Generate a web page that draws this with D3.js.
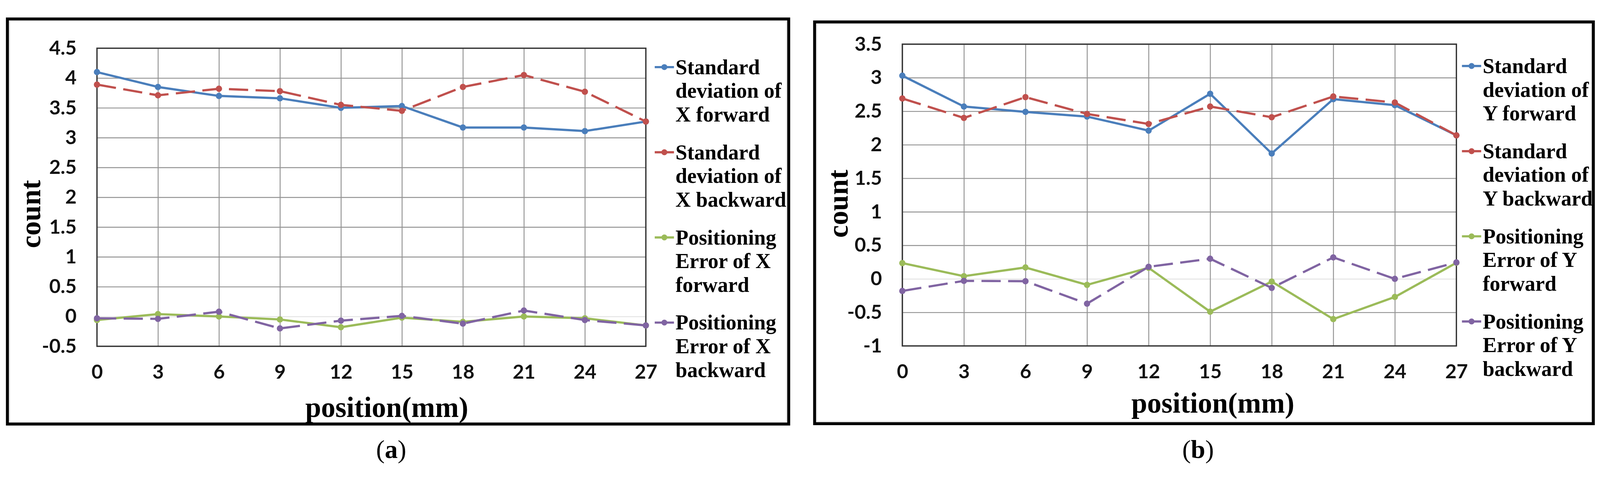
<!DOCTYPE html>
<html>
<head>
<meta charset="utf-8">
<script src="https://cdn.jsdelivr.net/npm/d3@7"></script>
<style>
  html, body { margin: 0; padding: 0; background: #fff; overflow: hidden; }
  #chart { width: 100vw; height: 100vh; }
  svg { display: block; width: 100%; height: 100%; }
</style>
</head>
<body>
<div id="chart"></div>
<script>
// positions along the axis (mm)
var positions = [0, 3, 6, 9, 12, 15, 18, 21, 24, 27];

// panel (a) - X axis
var stdXForward  = [4.10, 3.85, 3.70, 3.66, 3.50, 3.53, 3.17, 3.17, 3.11, 3.27];
var stdXBackward = [3.89, 3.71, 3.82, 3.78, 3.55, 3.45, 3.85, 4.05, 3.77, 3.27];
var errXForward  = [-0.06, 0.04, 0.00, -0.05, -0.18, -0.02, -0.09, 0.00, -0.03, -0.15];
var errXBackward = [-0.03, -0.04, 0.08, -0.20, -0.07, 0.01, -0.12, 0.10, -0.06, -0.15];

// panel (b) - Y axis
var stdYForward  = [3.03, 2.57, 2.49, 2.42, 2.21, 2.76, 1.87, 2.68, 2.59, 2.14];
var stdYBackward = [2.69, 2.40, 2.71, 2.46, 2.31, 2.57, 2.41, 2.72, 2.63, 2.14];
var errYForward  = [0.235, 0.04, 0.17, -0.09, 0.165, -0.49, -0.04, -0.60, -0.27, 0.24];
var errYBackward = [-0.18, -0.03, -0.035, -0.37, 0.18, 0.30, -0.135, 0.32, 0.00, 0.245];

var yTicksA = [-0.5, 0, 0.5, 1, 1.5, 2, 2.5, 3, 3.5, 4, 4.5];
var yTicksB = [-1, -0.5, 0, 0.5, 1, 1.5, 2, 2.5, 3, 3.5];

var legendA = ['Standard|deviation of|X forward', 'Standard|deviation of|X backward',
               'Positioning|Error of X|forward', 'Positioning|Error of X|backward'];
var legendB = ['Standard|deviation of|Y forward', 'Standard|deviation of|Y backward',
               'Positioning|Error of Y|forward', 'Positioning|Error of Y|backward'];

var colors = ['#4a7ebb', '#c0504d', '#9bbb59', '#8064a2'];
var dashed = [false, true, false, true];

var W = 4323, H = 1236;
var svg = d3.select('#chart').append('svg')
            .attr('viewBox', '0 0 ' + W + ' ' + H)
            .attr('preserveAspectRatio', 'xMidYMid meet');

var tickFont = 'Lato, "Open Sans", sans-serif';
var serifFont = '"Liberation Serif", "Times New Roman", serif';

function drawPanel(p) {
  var g = svg.append('g');

  // frame
  g.append('rect')
    .attr('x', p.box[0]).attr('y', p.box[1])
    .attr('width', p.box[2]).attr('height', p.box[3])
    .attr('fill', '#fff')
    .attr('stroke', '#000')
    .attr('stroke-width', 8);
  g.append('rect')
    .attr('x', p.box[0] + 6).attr('y', p.box[1] + 6)
    .attr('width', p.box[2] - 12).attr('height', p.box[3] - 12)
    .attr('fill', 'none')
    .attr('stroke', '#ececec')
    .attr('stroke-width', 3);

  var x = d3.scaleLinear().domain([0, 27]).range([p.left, p.right]);
  var y = d3.scaleLinear().domain(p.yDomain).range([p.bottom, p.top]);

  // grid
  g.append('g')
    .attr('transform', 'translate(' + p.left + ',0)')
    .call(d3.axisLeft(y).tickValues(p.yTicks).tickSize(-(p.right - p.left)).tickFormat(''))
    .call(function(s) {
      s.select('.domain').remove();
      s.selectAll('line')
        .attr('stroke', function(d) { return d === 0 ? '#e2e2e2' : '#939393'; })
        .attr('stroke-width', 2.5);
    });
  g.append('g')
    .attr('transform', 'translate(0,' + p.bottom + ')')
    .call(d3.axisBottom(x).tickValues(positions).tickSize(-(p.bottom - p.top)).tickFormat(''))
    .call(function(s) {
      s.select('.domain').remove();
      s.selectAll('line').attr('stroke', '#939393').attr('stroke-width', 2.5);
    });

  g.append('rect')
    .attr('x', p.left).attr('y', p.top)
    .attr('width', p.right - p.left).attr('height', p.bottom - p.top)
    .attr('fill', 'none')
    .attr('stroke', '#333')
    .attr('stroke-width', 3.5);

  // tick labels
  g.append('g')
    .attr('transform', 'translate(' + (p.left - 55) + ',0)')
    .call(d3.axisLeft(y).tickValues(p.yTicks).tickSize(0).tickPadding(0)
            .tickFormat(function(d) { return String(d); }))
    .call(function(s) {
      s.select('.domain').remove();
      s.selectAll('text')
        .attr('font-family', tickFont).attr('font-weight', 700)
        .attr('font-size', 53).attr('fill', '#111');
    });
  g.append('g')
    .attr('transform', 'translate(0,' + (p.bottom + 50) + ')')
    .call(d3.axisBottom(x).tickValues(positions).tickSize(0).tickPadding(0))
    .call(function(s) {
      s.select('.domain').remove();
      s.selectAll('text')
        .attr('font-family', tickFont).attr('font-weight', 700)
        .attr('font-size', 53).attr('fill', '#111');
    });

  // axis titles
  g.append('text')
    .attr('transform', 'translate(' + p.countPos[0] + ',' + p.countPos[1] + ') rotate(-90)')
    .attr('text-anchor', 'middle')
    .attr('dominant-baseline', 'central')
    .attr('font-family', serifFont).attr('font-weight', 700).attr('font-size', 77)
    .text('count');
  g.append('text')
    .attr('x', p.xTitle[0]).attr('y', p.xTitle[1])
    .attr('text-anchor', 'middle')
    .attr('font-family', serifFont).attr('font-weight', 700).attr('font-size', 77)
    .text('position(mm)');

  // series
  var line = d3.line()
    .x(function(d) { return x(d[0]); })
    .y(function(d) { return y(d[1]); });

  p.series.forEach(function(vals, i) {
    var pts = positions.map(function(v, j) { return [v, vals[j]]; });
    g.append('path')
      .datum(pts)
      .attr('d', line)
      .attr('fill', 'none')
      .attr('stroke', colors[i])
      .attr('stroke-width', 6)
      .attr('stroke-linejoin', 'round')
      .attr('stroke-dasharray', dashed[i] ? '52,20' : null);
    g.selectAll('.m' + i)
      .data(pts)
      .enter()
      .append('circle')
      .attr('cx', function(d) { return x(d[0]); })
      .attr('cy', function(d) { return y(d[1]); })
      .attr('r', 8.5)
      .attr('fill', colors[i]);
  });

  // legend
  p.legend.forEach(function(label, i) {
    var ly = p.legendY + i * 230;
    g.append('line')
      .attr('x1', p.legendX).attr('x2', p.legendX + 52)
      .attr('y1', ly).attr('y2', ly)
      .attr('stroke', colors[i]).attr('stroke-width', 6);
    g.append('circle')
      .attr('cx', p.legendX + 26).attr('cy', ly).attr('r', 8)
      .attr('fill', colors[i]);
    var t = g.append('text')
      .attr('font-family', serifFont).attr('font-weight', 700).attr('font-size', 57)
      .attr('fill', '#000');
    label.split('|').forEach(function(part, k) {
      t.append('tspan')
        .attr('x', p.legendX + 56)
        .attr('y', ly + 19 + k * 64)
        .text(part);
    });
  });

  // sub-caption
  var cap = svg.append('text')
    .attr('x', p.caption[0]).attr('y', p.caption[1])
    .attr('text-anchor', 'middle')
    .attr('font-family', serifFont).attr('font-size', 70);
  cap.append('tspan').text('(');
  cap.append('tspan').attr('font-weight', 700).text(p.letter);
  cap.append('tspan').text(')');
}

drawPanel({
  box: [20, 17, 2111, 1094],
  left: 262, right: 1745, top: 96, bottom: 901,
  yDomain: [-0.5, 4.5], yTicks: yTicksA,
  series: [stdXForward, stdXBackward, errXForward, errXBackward],
  legend: legendA, legendX: 1769, legendY: 147,
  countPos: [83, 544], xTitle: [1045, 1092],
  caption: [1057, 1203], letter: 'a'
});

drawPanel({
  box: [2201, 25, 2104, 1085],
  left: 2438, right: 3935, top: 85, bottom: 900,
  yDomain: [-1, 3.5], yTicks: yTicksB,
  series: [stdYForward, stdYBackward, errYForward, errYBackward],
  legend: legendB, legendX: 3950, legendY: 144,
  countPos: [2264, 516], xTitle: [3277, 1080],
  caption: [3237, 1203], letter: 'b'
});
</script>
</body>
</html>
